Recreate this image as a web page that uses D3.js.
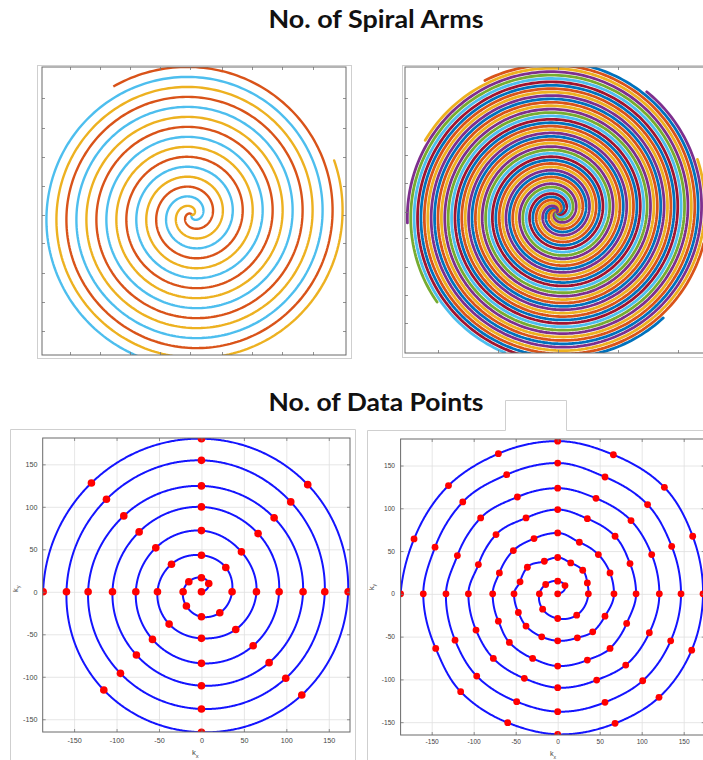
<!DOCTYPE html>
<html>
<head>
<meta charset="utf-8">
<script src="https://cdn.jsdelivr.net/npm/d3@7/dist/d3.min.js"></script>
<style>
  html, body { margin: 0; padding: 0; background: #fff; }
  svg { display: block; }
</style>
</head>
<body>
<svg id="fig" width="703" height="760"></svg>
<script>
// ---------- text
const headings = ["No. of Spiral Arms", "No. of Data Points"];
const kSymbol = "k";
const kSubX = "x";
const kSubY = "y";

// ---------- MATLAB default line colour order
const lineOrder = ["#0072BD", "#D95319", "#EDB120", "#7E2F8E", "#77AC30", "#4DBEEE", "#A2142F"];

// ---------- three-arm spiral: colour, angle where the arm leaves the centre (deg), degrees swept
const threeArmColor = ["#D95319", "#4DBEEE", "#EDB120"];
const threeArmStart = [114, 234, 354];
const threeArmSweep = [1807, 1850, 1827];
const threeArmPitch = 30;          // radial growth of one arm per full turn

// ---------- eleven-arm spiral
const elevenArmCount = 11;
const elevenArmFirstTip = 86;      // angle of the outer tip of the first arm (deg)
const elevenArmSweep = 1440;       // degrees swept by every arm
const elevenArmRadius = 150;       // radius at the tips

// ---------- unlabeled tick positions of the two spiral-arm axes
const armTicksLX = [-122, -92, -62, -32, -2, 30, 60, 90, 121];
const armTicksLY = [-116, -87, -58, -28, 0, 29, 58, 87, 117];
const armTicksRX = [-119, -59, 1, 61, 121];
const armTicksRY = [-111, -83, -55, -26, 0, 29, 57, 85, 114];

// ---------- k-space ticks
const kTicks = [-150, -100, -50, 0, 50, 100, 150];

// ---------- sampled trajectory, 8 samples per turn
const coarseKx = [0, 8.6, 0, -14.9, -21.6, -17.7, 0, 21.6, 36.1, 28.7, 0, -35.3, -51.8, -38.1, 0, 40.4,
  64.8, 47.1, 0, -53.8, -77.3, -57.7, 0, 60.9, 91.5, 66.7, 0, -73.4, -104.8, -76.6, 0, 79.7,
  119.7, 85.6, 0, -91.5, -133.5, -95.4, 0, 99.3, 145.3, 105.2, 0, -111.9, -159, -115, 0, 118.2,
  172.8, 125.2, 0, -129.6, -186.5];
const coarseKy = [0, 9.8, 16.5, 11.8, 0, -16.8, -29.4, -24.7, 0, 28.6, 43.1, 32.5, 0, -38, -54.8, -44.3,
  0, 47, 72, 51.7, 0, -56, -84.2, -63.5, 0, 68.5, 99.9, 70.5, 0, -74.4, -110.5, -83.4,
  0, 87, 124.6, 89.3, 0, -96, -137.9, -101.8, 0, 105.8, 154.7, 108.9, 0, -115.6, -165.3, -121.4,
  0, 126.1, 180.2, 128.1, 0];

// ---------- sampled trajectory, 16 samples per turn after the first turn
const fineKx = [0, 8.7, 0, -14.3, -21.8, -17.9, 0, 22.6, 36.5,
  35.3, 29.8, 15.5, 0, -15.9, -36.1, -44.8, -52, -46.8, -37.7, -19, 0, 23.4, 41.7, 56.3, 67,
  62.3, 48.4, 25.8, 0, -28.2, -52.8, -69.4, -77.4, -70.6, -57.5, -29.8, 0, 35.3, 62.3, 82.1, 93.3,
  86.1, 68.3, 35.3, 0, -37.7, -73.4, -94.4, -106.3, -97.2, -76.6, -39.7, 0, 46.4, 81, 109.1, 121,
  111.9, 87.3, 45.6, 0, -48, -91.7, -119.4, -133, -122.2, -96.4, -48.8, 0, 56.3, 101.2, 134.5, 146.8,
  135.7, 107, 56.3, 0, -60.7, -113, -146, -160, -145.2, -115.5, -59.5, 0, 68.3, 120.6, 159.5, 173,
  160.7, 127, 66.3, 0, -70.6, -130, -171, -187];
const fineKy = [0, 9.7, 14.8, 10.9, 0, -17.9, -28.8, -24.9, 0,
  12.8, 27.6, 36.2, 42.5, 38.1, 31.1, 14, 0, -21.8, -37.7, -50.2, -54.9, -51.4, -44.4, -26.1, 0,
  24.5, 45.9, 60.3, 71.2, 64.6, 50.6, 24.5, 0, -31.9, -56.8, -75.5, -84.4, -77.4, -63.8, -34.6, 0,
  35.4, 67.3, 87.9, 98.5, 88.7, 69.3, 34.2, 0, -42.4, -75.5, -98.8, -109.7, -100.8, -83.3, -45.5, 0,
  45.9, 85.6, 111.7, 123.5, 113.2, 88.7, 44.7, 0, -54.1, -96.1, -126, -137.7, -126.8, -101.6, -54.9, 0,
  55.6, 104.3, 136.6, 152.9, 139.3, 107.4, 54.5, 0, -63.8, -114.4, -150.6, -164.2, -151.4, -121, -65.8, 0,
  67.3, 124.5, 162.6, 178.5, 163.8, 126.5, 64.2, 0];

// ================================================================
const svg = d3.select("#fig");
const defs = svg.append("defs");
const FRAME = "#cfcfcf";
const BOX = "#6a6a6a";
const TICKFONT = "'Liberation Sans', Arial, Helvetica, sans-serif";
let clipCount = 0;

function clipFor(x, y) {
  const id = "plotclip" + (clipCount++);
  defs.append("clipPath").attr("id", id).append("rect")
    .attr("x", x.range()[0]).attr("y", y.range()[1])
    .attr("width", x.range()[1] - x.range()[0])
    .attr("height", y.range()[0] - y.range()[1]);
  return `url(#${id})`;
}

function placeAxis(g, axis, tx, ty) {
  return g.append("g").attr("transform", `translate(${tx},${ty})`).call(axis)
    .call(s => s.select(".domain").remove());
}

function inwardTicks(g, x, y, xt, yt, len) {
  const [L, R] = x.range(), [B, T] = y.range();
  const style = s => { s.selectAll(".tick line").attr("stroke", "#777").attr("stroke-width", 0.8);
                       s.selectAll(".tick text").remove(); };
  placeAxis(g, d3.axisBottom(x).tickValues(xt).tickSize(-len), 0, B).call(style);
  placeAxis(g, d3.axisTop(x).tickValues(xt).tickSize(-len), 0, T).call(style);
  placeAxis(g, d3.axisLeft(y).tickValues(yt).tickSize(-len), L, 0).call(style);
  placeAxis(g, d3.axisRight(y).tickValues(yt).tickSize(-len), R, 0).call(style);
}

function axesBox(g, x, y) {
  const [L, R] = x.range(), [B, T] = y.range();
  g.append("rect").attr("x", L).attr("y", T).attr("width", R - L).attr("height", B - T)
    .attr("fill", "none").attr("stroke", BOX).attr("stroke-width", 1);
}

// ---------- headings
svg.selectAll("text.heading").data(headings).join("text")
  .attr("class", "heading")
  .attr("x", 376).attr("y", (d, i) => i === 0 ? 28 : 411)
  .attr("text-anchor", "middle")
  .attr("font-family", "Lato, 'Open Sans', sans-serif")
  .attr("font-weight", 700).attr("font-size", 24)
  .attr("textLength", 215).attr("lengthAdjust", "spacingAndGlyphs")
  .attr("fill", "#111")
  .text(d => d);

// ---------- outer frames
svg.append("rect").attr("x", 37.5).attr("y", 65.5).attr("width", 314).attr("height", 293)
  .attr("fill", "none").attr("stroke", FRAME);
svg.append("rect").attr("x", 402.5).attr("y", 65.5).attr("width", 320).attr("height", 292)
  .attr("fill", "none").attr("stroke", FRAME);
svg.append("path").attr("d", "M10.5,770V429.5H355.5V770")
  .attr("fill", "none").attr("stroke", FRAME);
svg.append("path").attr("d", "M367.5,770V430.5H505.5V400.5H566.5V430.5H720")
  .attr("fill", "none").attr("stroke", FRAME);

// ---------- spiral-arm panels
function spiralArm(start, sweep, pitch) {
  return d3.range(0, sweep + 1, 1.5).concat([sweep]).map(t => {
    const a = (start + t) * Math.PI / 180, r = pitch * t / 360;
    return [r * Math.cos(a), r * Math.sin(a)];
  });
}

{
  const x = d3.scaleLinear().domain([-150, 154]).range([42, 346]);
  const y = d3.scaleLinear().domain([-140, 148]).range([355, 67]);
  const g = svg.append("g");
  const line = d3.line().x(d => x(d[0])).y(d => y(d[1]));
  const arms = threeArmColor.map((c, i) => ({ color: c, pts: spiralArm(threeArmStart[i], threeArmSweep[i], threeArmPitch) }));
  g.append("g").attr("clip-path", clipFor(x, y))
    .selectAll("path").data(arms).join("path")
    .attr("d", d => line(d.pts)).attr("fill", "none")
    .attr("stroke", d => d.color).attr("stroke-width", 2.4).attr("stroke-linecap", "round");
  inwardTicks(g, x, y, armTicksLX, armTicksLY, 3);
  axesBox(g, x, y);
}

{
  const x = d3.scaleLinear().domain([-152, 160]).range([405, 717]);
  const y = d3.scaleLinear().domain([-141, 145]).range([353, 67]);
  const g = svg.append("g");
  const line = d3.line().x(d => x(d[0])).y(d => y(d[1]));
  const pitch = elevenArmRadius / (elevenArmSweep / 360);
  const arms = d3.range(elevenArmCount).map(k => {
    const tip = elevenArmFirstTip + k * 360 / elevenArmCount;
    return { color: lineOrder[k % lineOrder.length], pts: spiralArm(tip - elevenArmSweep, elevenArmSweep, pitch) };
  });
  g.append("g").attr("clip-path", clipFor(x, y))
    .selectAll("path").data(arms).join("path")
    .attr("d", d => line(d.pts)).attr("fill", "none")
    .attr("stroke", d => d.color).attr("stroke-width", 2.8).attr("stroke-linecap", "round");
  inwardTicks(g, x, y, armTicksRX, armTicksRY, 3);
  axesBox(g, x, y);
}

// ---------- trajectory through the samples, smoothed as radius against unwrapped angle
function polarTrace(kx, ky) {
  const pol = [];
  let prev = null;
  kx.forEach((v, i) => {
    const r = Math.hypot(v, ky[i]);
    if (r === 0) { pol.push(null); return; }
    let a = Math.atan2(ky[i], v) * 180 / Math.PI;
    if (prev !== null) while (a <= prev) a += 360;
    pol.push([a, r]);
    prev = a;
  });
  // the centre sample has no angle of its own: give it the spacing of the next step
  pol.forEach((p, i) => { if (p === null) pol[i] = [pol[i + 1][0] - (pol[i + 2][0] - pol[i + 1][0]), 0]; });
  const tmp = defs.append("path")
    .attr("d", d3.line().curve(d3.curveMonotoneX)(pol));
  const node = tmp.node();
  const len = node.getTotalLength();
  const out = [];
  for (let s = 0; s <= len; s += 0.4) {
    const p = node.getPointAtLength(s);
    const a = p.x * Math.PI / 180;
    out.push([p.y * Math.cos(a), p.y * Math.sin(a)]);
  }
  const last = pol[pol.length - 1];
  out.push([last[1] * Math.cos(last[0] * Math.PI / 180), last[1] * Math.sin(last[0] * Math.PI / 180)]);
  tmp.remove();
  return out;
}

// ---------- k-space panels
function kPanel(cfg) {
  const { x, y, kx, ky, dotR, font, xPad, yPad, kxPos, kyPos } = cfg;
  const [L, R] = x.range(), [B, T] = y.range();
  const g = svg.append("g");

  // grid
  const gridStyle = s => { s.selectAll(".tick line").attr("stroke", "#e0e0e0").attr("stroke-width", 0.8);
                           s.selectAll(".tick text").remove(); };
  placeAxis(g, d3.axisBottom(x).tickValues(kTicks).tickSize(-(B - T)), 0, B).call(gridStyle);
  placeAxis(g, d3.axisLeft(y).tickValues(kTicks).tickSize(-(R - L)), L, 0).call(gridStyle);

  // trajectory and samples
  const pts = kx.map((v, i) => [v, ky[i]]);
  const trace = polarTrace(kx, ky);
  const line = d3.line().x(d => x(d[0])).y(d => y(d[1]));
  const plot = g.append("g").attr("clip-path", clipFor(x, y));
  plot.append("path").attr("d", line(trace)).attr("fill", "none")
    .attr("stroke", "#1414ff").attr("stroke-width", 2).attr("stroke-linejoin", "round");
  plot.selectAll("circle").data(pts).join("circle")
    .attr("cx", d => x(d[0])).attr("cy", d => y(d[1])).attr("r", dotR)
    .attr("fill", "#ff0000");

  inwardTicks(g, x, y, kTicks, kTicks, 3);
  axesBox(g, x, y);

  // tick labels
  const labStyle = s => { s.selectAll(".tick line").remove();
    s.selectAll(".tick text").attr("fill", "#444").attr("font-size", font).attr("font-family", TICKFONT); };
  placeAxis(g, d3.axisBottom(x).tickValues(kTicks).tickSize(0).tickPadding(xPad).tickFormat(d => String(d)), 0, B).call(labStyle);
  placeAxis(g, d3.axisLeft(y).tickValues(kTicks).tickSize(0).tickPadding(yPad).tickFormat(d => String(d)), L, 0).call(labStyle);

  // axis names
  const tx = g.append("text").attr("x", kxPos[0]).attr("y", kxPos[1])
    .attr("font-family", TICKFONT).attr("font-size", font + 0.5).attr("fill", "#444");
  tx.append("tspan").text(kSymbol);
  tx.append("tspan").attr("font-size", font - 1.5).attr("dy", 2.5).text(kSubX);
  const ty = g.append("text").attr("transform", `translate(${kyPos[0]},${kyPos[1]}) rotate(-90)`)
    .attr("font-family", TICKFONT).attr("font-size", font + 0.5).attr("fill", "#444");
  ty.append("tspan").text(kSymbol);
  ty.append("tspan").attr("font-size", font - 1.5).attr("dy", 2.5).text(kSubY);
}

kPanel({
  x: d3.scaleLinear().domain([-187, 175]).range([42.7, 350]),
  y: d3.scaleLinear().domain([-165, 181]).range([732, 438]),
  kx: coarseKx, ky: coarseKy, dotR: 3.8, font: 7.2, xPad: 5.5, yPad: 5.2,
  kxPos: [192, 755], kyPos: [17.5, 592]
});

kPanel({
  x: d3.scaleLinear().domain([-187, 175]).range([400.6, 704.7]),
  y: d3.scaleLinear().domain([-165, 181]).range([735, 439]),
  kx: fineKx, ky: fineKy, dotR: 3.4, font: 6.6, xPad: 4.4, yPad: 5.6,
  kxPos: [550, 756], kyPos: [373.5, 590]
});
</script>
</body>
</html>
